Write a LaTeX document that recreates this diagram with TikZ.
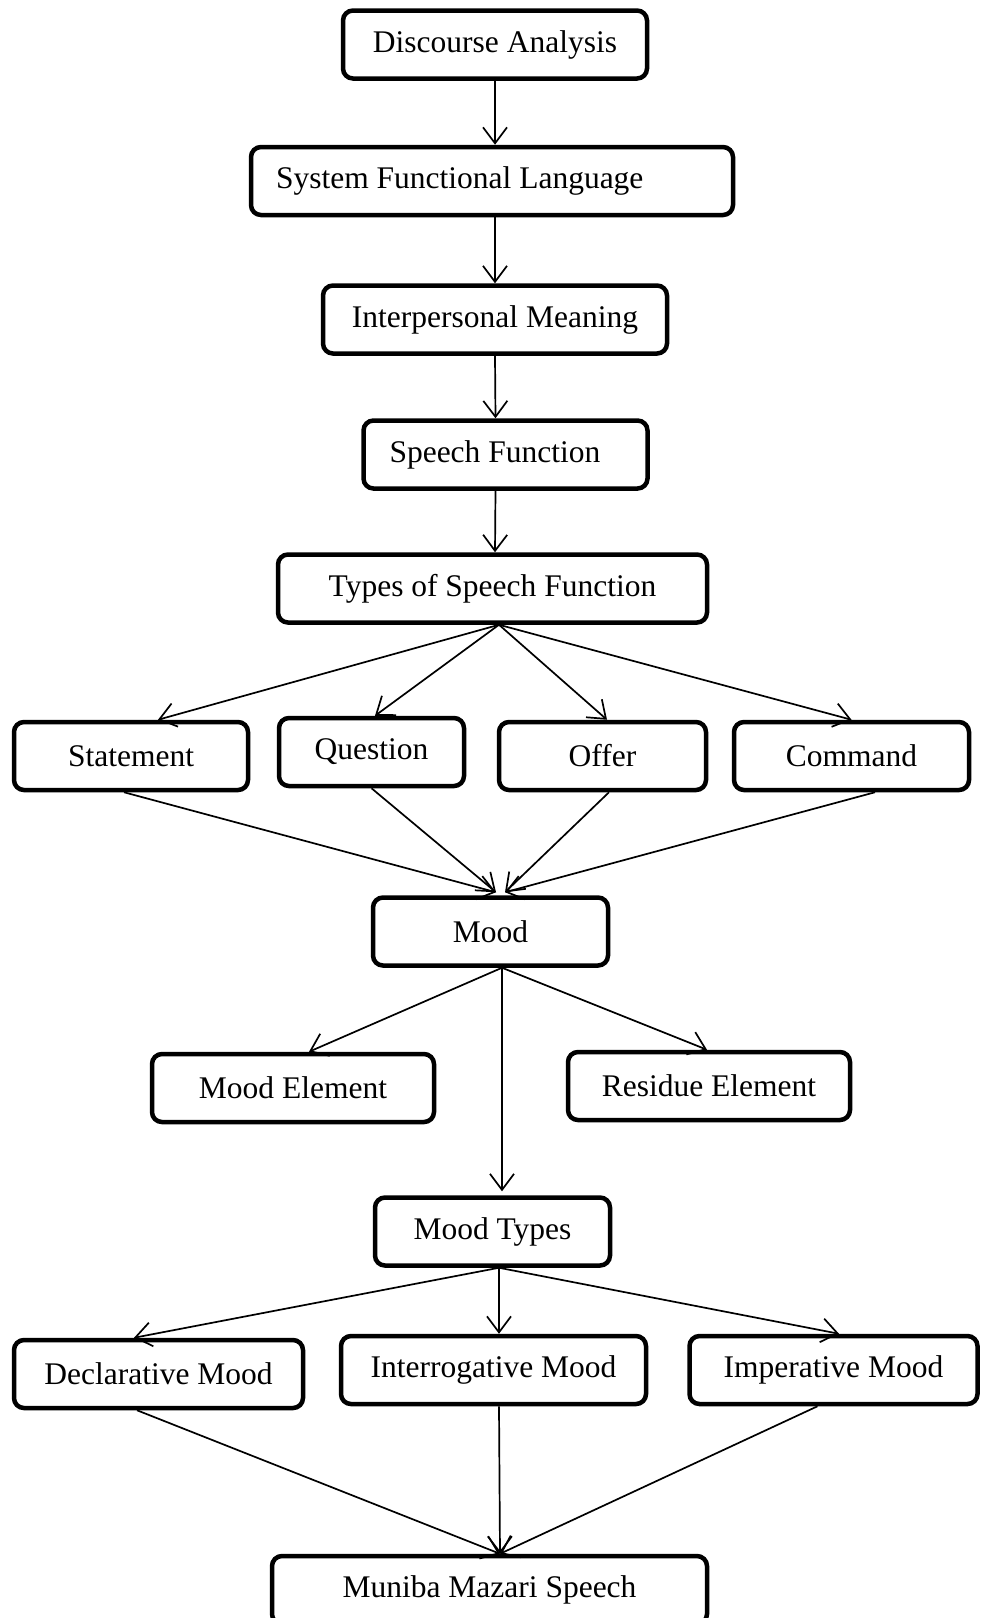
\documentclass[tikz,border=0pt]{standalone}
\usepackage{fontspec}
\setmainfont{Liberation Serif}
\usetikzlibrary{arrows.meta}
\tikzset{
    box/.style = {draw, line width=4.5pt, rounded corners=10pt, inner sep=0pt,
        minimum height=68pt, font=\fontsize{31.5}{36}\selectfont},
    arr/.style = {-{Straight Barb[length=16pt,width=24pt]}, line width=1.7pt}
}
\newcommand{\lefttext}[2]{\makebox[#1][l]{#2}}

\begin{document}
\begin{tikzpicture}[x=1pt, y=-1pt]
    \useasboundingbox (0,0) rectangle (982,1618);

    \node[box, minimum width=304] (da) at (495,44.5) {Discourse Analysis};
    \node[box, minimum width=482] (sfl) at (492,181) {\lefttext{432pt}{System Functional Language}};
    \node[box, minimum width=344] (im) at (495,319.5) {Interpersonal Meaning};
    \node[box, minimum width=284] (sf) at (505.5,454.5) {\lefttext{232pt}{Speech Function}};
    \node[box, minimum width=429] (tsf) at (492.5,588.5) {Types of Speech Function};

    \node[box, minimum width=234] (stm) at (131,756) {Statement};
    \node[box, minimum width=185] (qst) at (371.5,752) {Question};
    \node[box, minimum width=207] (ofr) at (602.5,756) {Offer};
    \node[box, minimum width=235] (cmd) at (851.5,756) {Command};

    \node[box, minimum width=235] (mood) at (490.5,931.5) {Mood};
    \node[box, minimum width=282] (mel) at (293,1088) {Mood Element};
    \node[box, minimum width=282] (rel) at (709,1086) {Residue Element};
    \node[box, minimum width=235] (mty) at (492.5,1231.5) {Mood Types};

    \node[box, minimum width=289] (dec) at (158.5,1374) {Declarative Mood};
    \node[box, minimum width=305] (itr) at (493.5,1370) {Interrogative Mood};
    \node[box, minimum width=288] (imp) at (833.5,1370) {Imperative Mood};

    \node[box, minimum width=435] (mms) at (489.5,1590) {Muniba Mazari Speech};

    % top chain
    \draw[arr] (da.south) -- ([xshift=3pt]sfl.north);
    \draw[arr] ([xshift=3pt]sfl.south) -- (im.north);
    \draw[arr] (im.south) -- ([xshift=-10pt]sf.north);
    \draw[arr] ([xshift=-10pt]sf.south) -- ([xshift=2.5pt]tsf.north);

    % speech functions
    \draw[arr] ([xshift=6.5pt]tsf.south) -- ([xshift=27pt]stm.north);
    \draw[arr] ([xshift=6.5pt]tsf.south) -- ([xshift=3.5pt]qst.north);
    \draw[arr] ([xshift=6.5pt]tsf.south) -- ([xshift=4.5pt]ofr.north);
    \draw[arr] ([xshift=6.5pt]tsf.south) -- (cmd.north);

    \draw[arr] ([xshift=-7pt]stm.south) -- ([xshift=5.5pt,yshift=3pt]mood.north);
    \draw[arr] (qst.south) -- ([xshift=5.5pt,yshift=3pt]mood.north);
    \draw[arr] ([xshift=6.5pt]ofr.south) -- ([xshift=14.5pt,yshift=3pt]mood.north);
    \draw[arr] ([xshift=23.5pt]cmd.south) -- ([xshift=14.5pt,yshift=3pt]mood.north);

    % mood
    \draw[arr] ([xshift=11.5pt]mood.south) -- ([xshift=16pt]mel.north);
    \draw[arr] ([xshift=11.5pt]mood.south) -- ([xshift=-2pt]rel.north);
    \draw[arr] ([xshift=11.5pt]mood.south) -- ([xshift=9.5pt,yshift=4pt]mty.north);

    \draw[arr] ([xshift=6.5pt]mty.south) -- ([xshift=-24.5pt]dec.north);
    \draw[arr] ([xshift=6.5pt]mty.south) -- ([xshift=5.5pt]itr.north);
    \draw[arr] ([xshift=6.5pt]mty.south) -- ([xshift=5.5pt]imp.north);

    \draw[arr] ([xshift=-21.5pt]dec.south) -- ([xshift=10.5pt]mms.north);
    \draw[arr] ([xshift=5.5pt]itr.south) -- ([xshift=10.5pt]mms.north);
    \draw[arr] ([xshift=-16pt]imp.south) -- ([xshift=10.5pt]mms.north);
\end{tikzpicture}
\end{document}
